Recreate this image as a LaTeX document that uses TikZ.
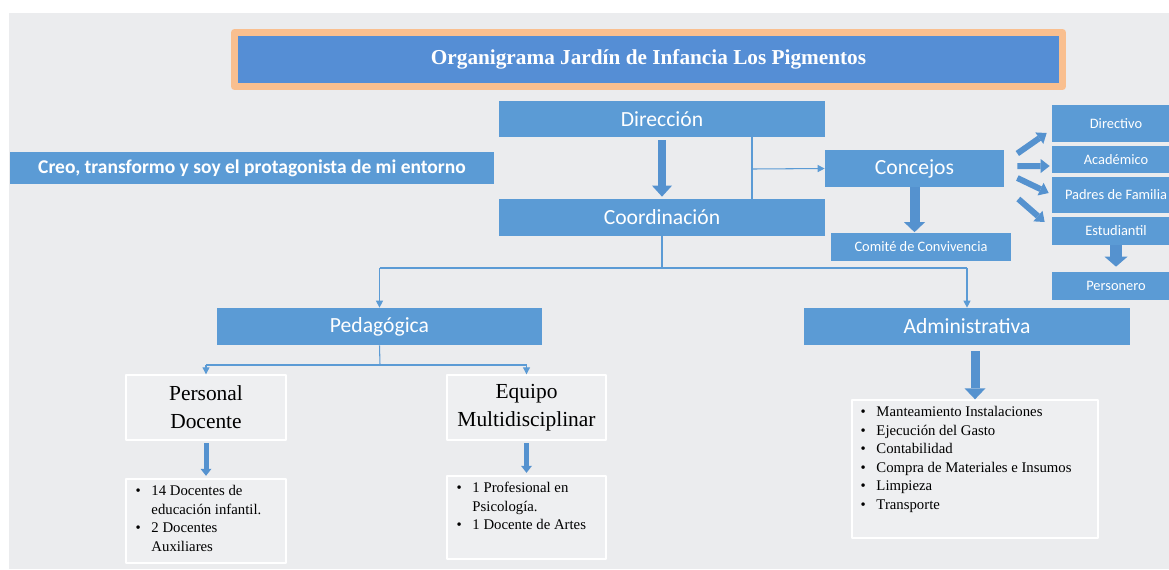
\documentclass[tikz,border=0pt]{standalone}
\usepackage{fontspec}
\setmainfont{Liberation Serif}
\newfontfamily\carlito{Carlito}
\usetikzlibrary{arrows.meta,positioning}
\definecolor{fondo}{HTML}{EBECEE}
\definecolor{azul}{HTML}{5B9BD5}
\definecolor{azultit}{HTML}{558ED5}
\definecolor{naranja}{HTML}{F9BF8F}
\definecolor{azulosc}{HTML}{5592CF}
\tikzset{
	caja/.style={fill=azul,text=white,inner sep=0pt,font=\carlito\fontsize{12.3}{14}\selectfont},
	cajita/.style={caja,font=\carlito\fontsize{8.2}{10}\selectfont},
	marco/.style={fill=fondo!85!white,draw=white,line width=0.8pt,inner sep=0pt},
	lista/.style={inner sep=0pt,anchor=base west,font=\fontsize{8.4}{10.5}\selectfont},
	conn/.style={azul,line width=0.6pt},
	flecha/.style={conn,-{Triangle[width=4pt,length=4pt]}},
	blk/.style args={#1/#2/#3}{azulosc,line width=#1,-{Triangle[width=#2,length=#3,line width=0pt]}}
}
\begin{document}
\begin{tikzpicture}[x=0.02cm,y=-0.02cm,line join=round]
	\useasboundingbox (0,0) rectangle (1169,569);
	\fill[fondo] (9,13) rectangle (1169,569);
	% titulo
	\node[fill=azultit,draw=naranja,line width=0.14cm,minimum width=16.56cm,minimum height=1.08cm,text=white,font=\bfseries\fontsize{12.1}{14}\selectfont] (tit) at (648.5,59.5) {Organigrama Jardín de Infancia Los Pigmentos};
	\node[caja,font=\carlito\bfseries\fontsize{11.1}{13}\selectfont,minimum width=9.68cm,minimum height=0.64cm] (lema) at (252,168) {Creo, transformo y soy el protagonista de mi entorno};
	% nivel directivo
	\node[caja,minimum width=6.52cm,minimum height=0.72cm] (dir) at (662,119) {Dirección};
	\node[caja,minimum width=6.52cm,minimum height=0.74cm] (coord) at (662,217.5) {Coordinación};
	\node[caja,minimum width=3.58cm,minimum height=0.74cm] (conc) at (914.5,168.5) {Concejos};
	\node[cajita,minimum width=3.6cm,minimum height=0.56cm] (comite) at (921,247) {Comité de Convivencia};
	% concejos
	\node[cajita,minimum width=2.56cm,minimum height=0.74cm] (directivo) at (1116,123.5) {Directivo};
	\node[cajita,minimum width=2.56cm,minimum height=0.54cm] (academico) at (1116,159.5) {Académico};
	\node[cajita,minimum width=2.56cm,minimum height=0.72cm] (padres) at (1116,195) {Padres de Familia};
	\node[cajita,minimum width=2.56cm,minimum height=0.56cm] (estud) at (1116,231) {Estudiantil};
	\node[cajita,minimum width=2.56cm,minimum height=0.56cm] (personero) at (1116,286) {Personero};
	% areas
	\node[caja,minimum width=6.5cm,minimum height=0.74cm] (ped) at (379.5,326.5) {Pedagógica};
	\node[caja,minimum width=6.52cm,minimum height=0.74cm] (adm) at (967,326.5) {Administrativa};
	\node[marco,minimum width=3.2cm,minimum height=1.3cm,align=center,font=\fontsize{12.2}{16}\selectfont] (perso) at (206,407.5) {Personal\\Docente};
	\node[marco,minimum width=3.18cm,minimum height=1.3cm,align=center,font=\fontsize{12.2}{16}\selectfont] (equipo) at (526.5,407.5) {Equipo\\Multidisciplinar};
	\node[marco,minimum width=3.2cm,minimum height=1.68cm] (perslist) at (206,521) {};
	\node[marco,minimum width=3.18cm,minimum height=1.66cm] (equilist) at (526.5,517.5) {};
	\node[marco,minimum width=4.92cm,minimum height=2.76cm] (admlist) at (975,469) {};
	\node[lista] (perstxt) at ([shift={(10,17.5)}]perslist.north west) {\begin{tabular}[t]{@{}p{9pt}@{}l@{}}
		\textbullet & 14 Docentes de\\ & educación infantil.\\ \textbullet & 2 Docentes\\ & Auxiliares\end{tabular}};
	\node[lista] (equitxt) at ([shift={(10,17.5)}]equilist.north west) {\begin{tabular}[t]{@{}p{9pt}@{}l@{}}
		\textbullet & 1 Profesional en\\ & Psicología.\\ \textbullet & 1 Docente de Artes\end{tabular}};
	\node[lista] (admtxt) at ([shift={(9,17.5)}]admlist.north west) {\begin{tabular}[t]{@{}p{9pt}@{}l@{}}
		\textbullet & Manteamiento Instalaciones\\ \textbullet & Ejecución del Gasto\\ \textbullet & Contabilidad\\
		\textbullet & Compra de Materiales e Insumos\\ \textbullet & Limpieza\\ \textbullet & Transporte\end{tabular}};
	% lineas
	\coordinate (j1) at (752,169);
	\coordinate (bus) at (662,268);
	\coordinate (bus2) at (380,365);
	\draw[conn] (dir.south -| j1) -- (coord.north -| j1);
	\draw[flecha] (j1) -- (conc.west);
	\draw[conn] (coord.south) -- (bus);
	\draw[conn] (ped.north |- bus) -- (adm.north |- bus);
	\draw[flecha] (ped.north |- bus) -- (ped.north);
	\draw[flecha] (adm.north |- bus) -- (adm.north);
	\draw[conn] (ped.south) -- (bus2);
	\draw[conn] (perso.north |- bus2) -- (equipo.north |- bus2);
	\draw[flecha] (perso.north |- bus2) -- (perso.north);
	\draw[flecha] (equipo.north |- bus2) -- (equipo.north);
	% flechas gruesas
	\draw[blk=0.16cm/0.4cm/0.22cm,shorten <=0.06cm,shorten >=0.04cm] (dir.south) -- (coord.north);
	\draw[blk=0.2cm/0.42cm/0.2cm,shorten >=0.01cm] (conc.south) -- (conc.south |- comite.north);
	\draw[blk=0.18cm/0.42cm/0.22cm,shorten <=0.12cm] (adm.south -| admlist.north) -- (admlist.north);
	\draw[blk=0.1cm/0.22cm/0.14cm,shorten <=0.05cm,shorten >=0.05cm] (perso.south) -- (perslist.north);
	\draw[blk=0.1cm/0.22cm/0.14cm,shorten <=0.05cm,shorten >=0.05cm] (equipo.south) -- (equilist.north);
	\draw[blk=0.24cm/0.46cm/0.2cm,shorten >=0.1cm] (estud.south) -- (personero.north);
	\draw[blk=0.12cm/0.28cm/0.18cm] ([shift={(13,-15)}]conc.east) -- ([shift={(-5,9.5)}]directivo.west);
	\draw[blk=0.12cm/0.28cm/0.18cm] ([shift={(13,-2.5)}]conc.east) -- ([shift={(-2,6.5)}]academico.west);
	\draw[blk=0.12cm/0.28cm/0.18cm] ([shift={(13,9.5)}]conc.east) -- ([shift={(-3,-2)}]padres.west);
	\draw[blk=0.12cm/0.28cm/0.18cm] ([shift={(14,30.5)}]conc.east) -- ([shift={(-7,-9)}]estud.west);
\end{tikzpicture}
\end{document}
